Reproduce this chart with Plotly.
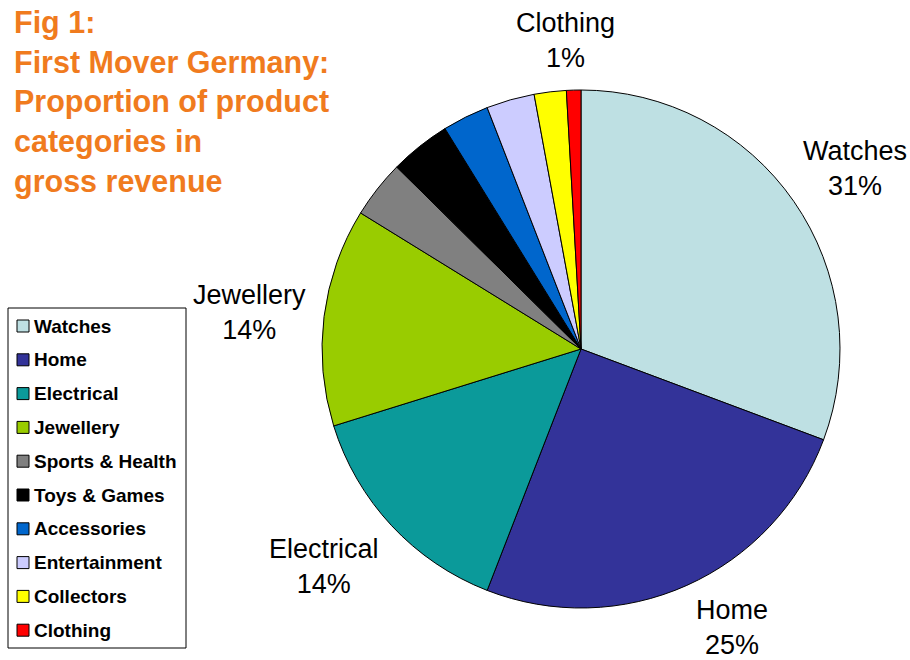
import math
import plotly.graph_objects as go

categories = ["Watches", "Home", "Electrical", "Jewellery", "Sports & Health",
              "Toys & Games", "Accessories", "Entertainment", "Collectors", "Clothing"]
values = [30.7, 25.2, 14.3, 13.6, 3.6, 3.8, 2.9, 3.0, 2.0, 0.9]
shown_labels = ["Watches", "Home", "Electrical", "Jewellery", "Clothing"]

colors = ["#BEE0E3", "#333399", "#0B9A9A", "#99CC00", "#808080",
          "#000000", "#0066CC", "#CCCCFF", "#FFFF00", "#FF0000"]

W, H = 910, 660
CX, CY, R = 581, 349, 259
LABEL_K = 1.25
label_nudge = {"Watches": (8, 4), "Home": (19, -17), "Electrical": (-20, -3),
               "Jewellery": (-10, 4), "Clothing": (-6, 15)}

FONT = "Liberation Sans, Arial, sans-serif"

fig = go.Figure(go.Pie(
    labels=categories, values=values, sort=False, direction="clockwise",
    rotation=0, textinfo="none", hoverinfo="label+percent",
    marker=dict(colors=colors, line=dict(color="#000000", width=1)),
    domain=dict(x=[(CX - R) / W, (CX + R) / W], y=[1 - (CY + R) / H, 1 - (CY - R) / H]),
    showlegend=False,
))

annotations = []
shapes = []

# title
annotations.append(dict(
    text="Fig 1:<br>First Mover Germany:<br>Proportion of product<br>categories in<br>gross revenue",
    x=12 / W, y=1 - 3 / H, xref="paper", yref="paper", xanchor="left", yanchor="top",
    align="left", showarrow=False,
    font=dict(family=FONT, size=30.5, color="#F07B1E", weight="bold")))

# slice labels placed from the data angles
total = sum(values)
cum = 0
for cat, v in zip(categories, values):
    mid = (cum + v / 2) / total * 2 * math.pi
    cum += v
    if cat not in shown_labels:
        continue
    ndx, ndy = label_nudge[cat]
    px = CX + R * LABEL_K * math.sin(mid) + ndx
    py = CY - R * LABEL_K * math.cos(mid) + ndy
    pct = round(v / total * 100)
    annotations.append(dict(
        text=f"{cat}<br>{pct}%", x=px / W, y=1 - py / H,
        xref="paper", yref="paper", xanchor="center", yanchor="middle",
        align="center", showarrow=False,
        font=dict(family=FONT, size=27, color="#000000")))

# legend (manual)
LX0, LY0, LX1, LY1 = 8, 308, 186, 648
shapes.append(dict(type="rect", xref="paper", yref="paper",
                   x0=LX0 / W, x1=LX1 / W, y0=1 - LY1 / H, y1=1 - LY0 / H,
                   line=dict(color="#000000", width=1), fillcolor="white"))
for i, (cat, col) in enumerate(zip(categories, colors)):
    yc = 326 + i * 33.8
    shapes.append(dict(type="rect", xref="paper", yref="paper",
                       x0=17 / W, x1=29 / W, y0=1 - (yc + 6) / H, y1=1 - (yc - 6) / H,
                       line=dict(color="#000000", width=1), fillcolor=col))
    annotations.append(dict(
        text=cat, x=32 / W, y=1 - yc / H, xref="paper", yref="paper",
        xanchor="left", yanchor="middle", showarrow=False,
        font=dict(family=FONT, size=19, color="#000000", weight="bold")))

fig.update_layout(
    width=W, height=H, margin=dict(l=0, r=0, t=0, b=0),
    paper_bgcolor="white", plot_bgcolor="white",
    annotations=annotations, shapes=shapes,
)

fig.write_html("out.html")
